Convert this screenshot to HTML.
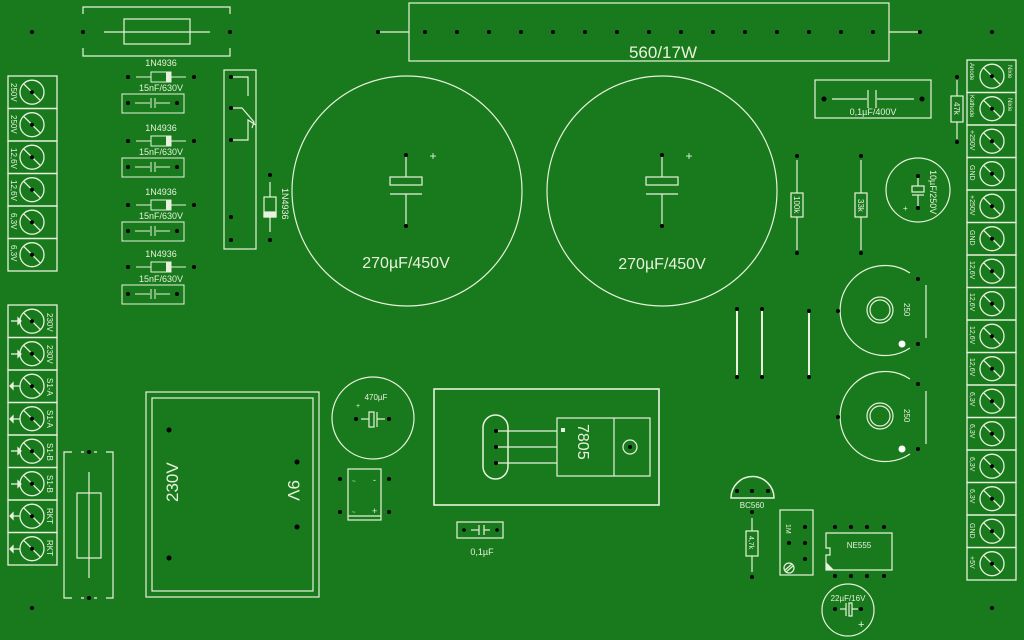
<!DOCTYPE html>
<html><head><meta charset="utf-8"><style>
html,body{margin:0;padding:0;background:#187a1c;}
svg{display:block}
text{font-family:"Liberation Sans","DejaVu Sans",sans-serif;fill:#e8f2dc}
</style></head><body>
<svg width="1024" height="640" viewBox="0 0 1024 640" xmlns="http://www.w3.org/2000/svg">
<rect width="1024" height="640" fill="#187a1c"/>
<defs>
<g id="t">
<rect x="0" y="0" width="49" height="32.5" fill="none" stroke="#e8f2dc" stroke-width="1.3"/>
<circle cx="24" cy="16.2" r="12" fill="none" stroke="#e8f2dc" stroke-width="1.3"/>
<line x1="15.5" y1="7.7" x2="32.5" y2="24.7" stroke="#e8f2dc" stroke-width="1.3"/>
<circle cx="24" cy="16.2" r="2" fill="#000"/>
</g>
<g id="tr">
<rect x="0" y="0" width="49" height="32.5" fill="none" stroke="#e8f2dc" stroke-width="1.3"/>
<circle cx="25" cy="16.2" r="12" fill="none" stroke="#e8f2dc" stroke-width="1.3"/>
<line x1="16.5" y1="7.7" x2="33.5" y2="24.7" stroke="#e8f2dc" stroke-width="1.3"/>
<circle cx="25" cy="16.2" r="2" fill="#000"/>
</g>
<g id="diode">
<line x1="136" y1="0" x2="186" y2="0" stroke="#e8f2dc"/>
<rect x="151" y="-5" width="20" height="10" fill="#187a1c" stroke="#e8f2dc"/>
<rect x="166" y="-5" width="5" height="10" fill="#e8f2dc"/>
<circle cx="128" cy="0" r="2" fill="#000"/><circle cx="194" cy="0" r="2" fill="#000"/>
</g>
<g id="cap">
<rect x="122" y="-9" width="62" height="19" fill="none" stroke="#e8f2dc"/>
<line x1="135" y1="0" x2="150" y2="0" stroke="#e8f2dc"/><line x1="156" y1="0" x2="170" y2="0" stroke="#e8f2dc"/>
<line x1="151" y1="-5" x2="151" y2="5" stroke="#e8f2dc"/><line x1="155" y1="-5" x2="155" y2="5" stroke="#e8f2dc"/>
<circle cx="128" cy="0" r="2" fill="#000"/><circle cx="177" cy="0" r="2" fill="#000"/>
</g>
</defs>
<g fill="none" stroke="#e8f2dc" stroke-width="1.2">
<path d="M83 14V7H230V14M83 48V56H230V48"/>
<rect x="124" y="19" width="66" height="25"/>
<line x1="104" y1="32" x2="210" y2="32"/>
<rect x="409" y="3" width="480" height="58"/>
<line x1="378" y1="32" x2="409" y2="32"/>
<line x1="889" y1="32" x2="920" y2="32"/>
<rect x="224" y="70" width="32" height="179"/>
<path d="M231 77H248V96M231 108H242L254 122L252 128M231 140H248V120L256 125"/>
<line x1="270" y1="182" x2="270" y2="232"/>
<rect x="264" y="197" width="12" height="20" fill="#187a1c"/>
<rect x="264" y="212" width="12" height="5" fill="#e8f2dc"/>
<circle cx="407" cy="191" r="115"/>
<circle cx="662" cy="191" r="115"/>
<line x1="406" y1="155" x2="406" y2="177"/><rect x="390" y="177" width="32" height="8"/><line x1="390" y1="194" x2="422" y2="194"/><line x1="406" y1="194" x2="406" y2="226"/>
<line x1="662" y1="155" x2="662" y2="177"/><rect x="646" y="177" width="32" height="8"/><line x1="646" y1="194" x2="678" y2="194"/><line x1="662" y1="194" x2="662" y2="226"/>
<rect x="815" y="80" width="116" height="38"/>
<line x1="832" y1="99" x2="867" y2="99"/><line x1="877" y1="99" x2="914" y2="99"/>
<line x1="868" y1="90" x2="868" y2="108"/><line x1="876" y1="90" x2="876" y2="108"/>
<line x1="957" y1="80" x2="957" y2="139"/><rect x="951" y="96" width="12" height="26" fill="#187a1c"/>
<line x1="797" y1="160" x2="797" y2="250"/><rect x="791" y="193" width="12" height="24" fill="#187a1c"/>
<line x1="861" y1="160" x2="861" y2="250"/><rect x="855" y="193" width="12" height="24" fill="#187a1c"/>
<circle cx="918" cy="190" r="32"/>
<line x1="918" y1="178" x2="918" y2="186"/><rect x="912" y="186" width="12" height="6"/><line x1="912" y1="195" x2="924" y2="195"/><line x1="918" y1="195" x2="918" y2="206"/>
<path d="M910 273A45 45 0 1 0 910 348"/>
<circle cx="880" cy="310" r="13"/><circle cx="880" cy="310" r="10"/>
<line x1="926" y1="285" x2="926" y2="338"/>
<path d="M910 379A45 45 0 1 0 910 454"/>
<circle cx="880" cy="416" r="13"/><circle cx="880" cy="416" r="10"/>
<line x1="926" y1="391" x2="926" y2="444"/>
<line x1="737" y1="309" x2="737" y2="377" stroke-width="2"/>
<line x1="762" y1="309" x2="762" y2="377" stroke-width="2"/>
<line x1="809" y1="311" x2="809" y2="377" stroke-width="2"/>
<rect x="146" y="392" width="173" height="205"/>
<rect x="152" y="398" width="161" height="193"/>
<path d="M72 452H64V598H72M81 452H84M94 452H97M106 452H113V598H106M97 598H94M84 598H81"/>
<rect x="77" y="493" width="24" height="65"/>
<line x1="89" y1="472" x2="89" y2="578"/>
<circle cx="373" cy="418" r="41"/>
<line x1="361" y1="419" x2="369" y2="419"/><rect x="369" y="412" width="5" height="15"/><line x1="377" y1="412" x2="377" y2="427"/><line x1="377" y1="419" x2="385" y2="419"/>
<rect x="348" y="469" width="33" height="51"/><line x1="348" y1="516" x2="381" y2="516"/>
<rect x="434" y="389" width="225" height="116" stroke-width="1.6"/>
<rect x="483" y="415" width="25" height="64" rx="12.5" stroke-width="1.5"/>
<line x1="496" y1="431" x2="557" y2="431"/><line x1="496" y1="447" x2="557" y2="447"/><line x1="496" y1="463" x2="557" y2="463"/>
<rect x="557" y="418" width="93" height="58"/><line x1="614" y1="418" x2="614" y2="476"/>
<circle cx="630" cy="447" r="7"/>
<rect x="457" y="522" width="46" height="16"/>
<line x1="471" y1="530" x2="479" y2="530"/><line x1="479" y1="525" x2="479" y2="535"/><line x1="484" y1="525" x2="484" y2="535"/><line x1="484" y1="530" x2="490" y2="530"/>
<path d="M731 498A21.5 21.5 0 0 1 774 498Z" stroke-width="1.5"/>
<line x1="752" y1="518" x2="752" y2="572"/><rect x="746" y="531" width="12" height="25" fill="#187a1c"/>
<rect x="780" y="510" width="33" height="65"/>
<circle cx="789" cy="568" r="5"/><line x1="785" y1="570" x2="792" y2="564"/><line x1="786" y1="572" x2="793" y2="566"/>
<path d="M826 533H892V570H826V555H830V548H826Z"/>
<circle cx="848" cy="610" r="26"/>
<line x1="840" y1="609" x2="846" y2="609"/><line x1="846" y1="603" x2="846" y2="616"/><rect x="849" y="603" width="3" height="13"/><line x1="852" y1="609" x2="858" y2="609"/>
</g>
<rect x="561" y="428" width="4" height="4" fill="#e8f2dc"/>
<path d="M826 562L834 570H826Z" fill="#e8f2dc"/>
<circle cx="902" cy="344" r="3.5" fill="#fff"/>
<circle cx="902" cy="449" r="3.5" fill="#fff"/>

<use href="#diode" y="77"/><use href="#cap" y="103"/>
<use href="#diode" y="141"/><use href="#cap" y="167"/>
<use href="#diode" y="205"/><use href="#cap" y="231"/>
<use href="#diode" y="267"/><use href="#cap" y="294"/>
<g font-size="9" text-anchor="middle">
<text x="161" y="66">1N4936</text><text x="161" y="91">15nF/630V</text>
<text x="161" y="131">1N4936</text><text x="161" y="155">15nF/630V</text>
<text x="161" y="195">1N4936</text><text x="161" y="219">15nF/630V</text>
<text x="161" y="257">1N4936</text><text x="161" y="282">15nF/630V</text>
</g>

<use href="#t" x="8" y="76"/><use href="#t" x="8" y="108.5"/><use href="#t" x="8" y="141"/><use href="#t" x="8" y="173.5"/><use href="#t" x="8" y="206"/><use href="#t" x="8" y="238.5"/>
<g font-size="8">
<text transform="translate(11,83) rotate(90)">250V</text>
<text transform="translate(11,115) rotate(90)">250V</text>
<text transform="translate(11,148) rotate(90)">12,6V</text>
<text transform="translate(11,180) rotate(90)">12,6V</text>
<text transform="translate(11,213) rotate(90)">6,3V</text>
<text transform="translate(11,245) rotate(90)">6,3V</text>
</g>
<use href="#t" x="8" y="305"/><use href="#t" x="8" y="337.5"/><use href="#t" x="8" y="370"/><use href="#t" x="8" y="402.5"/><use href="#t" x="8" y="435"/><use href="#t" x="8" y="467.5"/><use href="#t" x="8" y="500"/><use href="#t" x="8" y="532.5"/>
<g font-size="8">
<text transform="translate(47,313) rotate(90)">230V</text>
<text transform="translate(47,345) rotate(90)">230V</text>
<text transform="translate(47,378) rotate(90)">S1-A</text>
<text transform="translate(47,410) rotate(90)">S1-A</text>
<text transform="translate(47,443) rotate(90)">S1-B</text>
<text transform="translate(47,475) rotate(90)">S1-B</text>
<text transform="translate(47,508) rotate(90)">RKT</text>
<text transform="translate(47,540) rotate(90)">RKT</text>
</g>
<g stroke="#e8f2dc" stroke-width="1.3" fill="#e8f2dc">
<line x1="11" y1="321" x2="18" y2="321"/><path d="M18 318L21 321L18 324Z"/>
<line x1="11" y1="354" x2="18" y2="354"/><path d="M18 351L21 354L18 357Z"/>
<line x1="13" y1="386" x2="20" y2="386"/><path d="M13 383L10 386L13 389Z"/>
<line x1="13" y1="419" x2="20" y2="419"/><path d="M13 416L10 419L13 422Z"/>
<line x1="11" y1="451" x2="18" y2="451"/><path d="M18 448L21 451L18 454Z"/>
<line x1="11" y1="484" x2="18" y2="484"/><path d="M18 481L21 484L18 487Z"/>
<line x1="13" y1="516" x2="20" y2="516"/><path d="M13 513L10 516L13 519Z"/>
<line x1="13" y1="549" x2="20" y2="549"/><path d="M13 546L10 549L13 552Z"/>
</g>
<use href="#tr" x="967" y="60"/><use href="#tr" x="967" y="92.5"/><use href="#tr" x="967" y="125"/><use href="#tr" x="967" y="157.5"/><use href="#tr" x="967" y="190"/><use href="#tr" x="967" y="222.5"/><use href="#tr" x="967" y="255"/><use href="#tr" x="967" y="287.5"/><use href="#tr" x="967" y="320"/><use href="#tr" x="967" y="352.5"/><use href="#tr" x="967" y="385"/><use href="#tr" x="967" y="417.5"/><use href="#tr" x="967" y="450"/><use href="#tr" x="967" y="482.5"/><use href="#tr" x="967" y="515"/><use href="#tr" x="967" y="547.5"/>
<g font-size="7">
<text transform="translate(970,63) rotate(90)" font-size="6">Anode</text>
<text transform="translate(970,95) rotate(90)" font-size="6">Kathode</text>
<text transform="translate(1008,65) rotate(90)" font-size="6">Nixie</text>
<text transform="translate(1008,98) rotate(90)" font-size="6">Nixie</text>
<text transform="translate(970,130) rotate(90)">+250V</text>
<text transform="translate(970,165) rotate(90)">GND</text>
<text transform="translate(970,195) rotate(90)">+250V</text>
<text transform="translate(970,230) rotate(90)">GND</text>
<text transform="translate(970,261) rotate(90)">12,6V</text>
<text transform="translate(970,293) rotate(90)">12,6V</text>
<text transform="translate(970,326) rotate(90)">12,6V</text>
<text transform="translate(970,358) rotate(90)">12,6V</text>
<text transform="translate(970,392) rotate(90)">6,3V</text>
<text transform="translate(970,424) rotate(90)">6,3V</text>
<text transform="translate(970,457) rotate(90)">6,3V</text>
<text transform="translate(970,489) rotate(90)">6,3V</text>
<text transform="translate(970,523) rotate(90)">GND</text>
<text transform="translate(970,556) rotate(90)">+5V</text>
</g>

<text x="663" y="58" font-size="17" text-anchor="middle">560/17W</text>
<text x="406" y="268" font-size="16" text-anchor="middle">270µF/450V</text>
<text x="662" y="269" font-size="16" text-anchor="middle">270µF/450V</text>
<text x="433" y="160" font-size="12" text-anchor="middle">+</text>
<text x="689" y="160" font-size="12" text-anchor="middle">+</text>
<text x="873" y="115" font-size="9" text-anchor="middle">0,1µF/400V</text>
<text transform="translate(954,102) rotate(90)" font-size="8">47k</text>
<text transform="translate(794,196) rotate(90)" font-size="8">100k</text>
<text transform="translate(858,199) rotate(90)" font-size="8">33k</text>
<text transform="translate(930,170) rotate(90)" font-size="9">10µF/250V</text>
<text x="903" y="211" font-size="8">+</text>
<text transform="translate(904,303) rotate(90)" font-size="8">250</text>
<text transform="translate(904,409) rotate(90)" font-size="8">250</text>
<text transform="translate(282,188) rotate(90)" font-size="9">1N4936</text>
<text transform="translate(178,502) rotate(-90)" font-size="17">230V</text>
<text transform="translate(288,480) rotate(90)" font-size="17">9V</text>
<text x="376" y="400" font-size="8" text-anchor="middle">470µF</text>
<text x="356" y="408" font-size="7">+</text>
<text x="352" y="483" font-size="6">~</text><text x="352" y="514" font-size="6">~</text>
<text x="373" y="483" font-size="9">-</text><text x="372" y="514" font-size="9">+</text>
<text transform="translate(578,424) rotate(90)" font-size="16">7805</text>
<text x="482" y="555" font-size="9" text-anchor="middle">0,1µF</text>
<text x="752" y="508" font-size="8" text-anchor="middle">BC560</text>
<text transform="translate(749,536) rotate(90)" font-size="7">4,7k</text>
<text transform="translate(786,524) rotate(90)" font-size="7">1M</text>
<text x="859" y="548" font-size="8" text-anchor="middle">NE555</text>
<text x="848" y="601" font-size="8" text-anchor="middle">22µF/16V</text>
<text x="858" y="628" font-size="11">+</text>

<g fill="#000">
<circle cx="32" cy="32" r="2"/><circle cx="83" cy="32" r="2"/><circle cx="230" cy="32" r="2"/>
<circle cx="378" cy="32" r="2"/>
<circle cx="425" cy="32" r="2"/><circle cx="457" cy="32" r="2"/><circle cx="489" cy="32" r="2"/><circle cx="521" cy="32" r="2"/><circle cx="553" cy="32" r="2"/><circle cx="585" cy="32" r="2"/><circle cx="617" cy="32" r="2"/><circle cx="649" cy="32" r="2"/><circle cx="681" cy="32" r="2"/><circle cx="713" cy="32" r="2"/><circle cx="745" cy="32" r="2"/><circle cx="777" cy="32" r="2"/><circle cx="809" cy="32" r="2"/><circle cx="841" cy="32" r="2"/><circle cx="873" cy="32" r="2"/>
<circle cx="920" cy="32" r="2"/><circle cx="992" cy="32" r="2"/>
<circle cx="231" cy="77" r="2"/><circle cx="231" cy="108" r="2"/><circle cx="231" cy="140" r="2"/><circle cx="231" cy="217" r="2"/><circle cx="231" cy="240" r="2"/>
<circle cx="270" cy="175" r="2"/><circle cx="270" cy="240" r="2"/>
<circle cx="406" cy="155" r="2"/><circle cx="406" cy="226" r="2"/>
<circle cx="662" cy="155" r="2"/><circle cx="662" cy="226" r="2"/>
<circle cx="824" cy="99" r="2.5"/><circle cx="922" cy="99" r="2.5"/>
<circle cx="957" cy="77" r="2"/><circle cx="957" cy="142" r="2"/>
<circle cx="797" cy="156" r="2"/><circle cx="797" cy="253" r="2"/>
<circle cx="861" cy="156" r="2"/><circle cx="861" cy="253" r="2"/>
<circle cx="918" cy="176" r="2"/><circle cx="918" cy="208" r="2"/>
<circle cx="838" cy="311" r="2"/><circle cx="918" cy="279" r="2"/><circle cx="918" cy="344" r="2"/>
<circle cx="838" cy="417" r="2"/><circle cx="918" cy="384" r="2"/><circle cx="918" cy="449" r="2"/>
<circle cx="737" cy="309" r="2"/><circle cx="762" cy="309" r="2"/><circle cx="809" cy="311" r="2"/>
<circle cx="737" cy="377" r="2"/><circle cx="762" cy="377" r="2"/><circle cx="809" cy="377" r="2"/>
<circle cx="169" cy="430" r="2.5"/><circle cx="169" cy="558" r="2.5"/><circle cx="297" cy="462" r="2.5"/><circle cx="297" cy="527" r="2.5"/>
<circle cx="89" cy="452" r="2"/><circle cx="89" cy="598" r="2"/><circle cx="32" cy="608" r="2"/>
<circle cx="356" cy="419" r="2"/><circle cx="389" cy="419" r="2"/>
<circle cx="340" cy="479" r="2"/><circle cx="389" cy="479" r="2"/><circle cx="340" cy="512" r="2"/><circle cx="389" cy="512" r="2"/>
<circle cx="496" cy="431" r="2"/><circle cx="496" cy="447" r="2"/><circle cx="496" cy="463" r="2"/><circle cx="630" cy="447" r="2"/>
<circle cx="464" cy="530" r="1.8"/><circle cx="497" cy="530" r="1.8"/>
<circle cx="737" cy="491" r="2"/><circle cx="752" cy="491" r="2"/><circle cx="768" cy="491" r="2"/>
<circle cx="752" cy="512" r="2"/><circle cx="752" cy="577" r="2"/>
<circle cx="805" cy="527" r="2"/><circle cx="789" cy="543" r="2"/><circle cx="805" cy="543" r="2"/><circle cx="805" cy="559" r="2"/>
<circle cx="835" cy="527" r="2"/><circle cx="851" cy="527" r="2"/><circle cx="867" cy="527" r="2"/><circle cx="884" cy="527" r="2"/>
<circle cx="835" cy="576" r="2"/><circle cx="851" cy="576" r="2"/><circle cx="867" cy="576" r="2"/><circle cx="884" cy="576" r="2"/>
<circle cx="835" cy="609" r="2"/><circle cx="861" cy="609" r="2"/>
<circle cx="992" cy="608" r="2"/>
</g>
</svg>
</body></html>
